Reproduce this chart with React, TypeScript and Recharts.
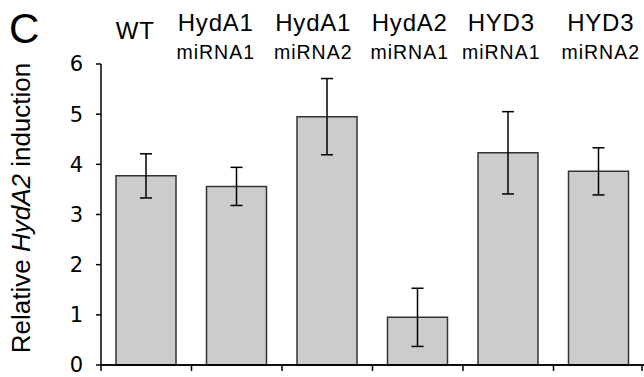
import React from 'react';
import { BarChart, Bar, XAxis, YAxis, ErrorBar, Label, ReferenceLine } from 'recharts';

const genes = ['WT', 'HydA1', 'HydA1', 'HydA2', 'HYD3', 'HYD3'];
const constructs = ['', 'miRNA1', 'miRNA2', 'miRNA1', 'miRNA1', 'miRNA2'];
const induction = [3.77, 3.56, 4.95, 0.95, 4.23, 3.86];
const errors = [0.44, 0.38, 0.76, 0.58, 0.82, 0.47];
const yTicks = [0, 1, 2, 3, 4, 5, 6];

const data = genes.map((g, i) => ({
  key: `${g}-${constructs[i]}-${i}`,
  gene: g,
  construct: constructs[i],
  value: induction[i],
  err: errors[i],
}));

const LABEL_NUDGE = [-11, -21, -14, -8, -7, 2];
const LBL_FONT = '"Liberation Sans", Arial, sans-serif';
const HALF_BAND = 543 / 6 / 2;

const TopTick = (props: any) => {
  const { x, index } = props;
  const d = data[index];
  if (!d) return null;
  const cx = x + (LABEL_NUDGE[index] ?? 0);
  return (
    <g>
      <text
        x={cx}
        y={d.construct ? 31 : 39}
        textAnchor="middle"
        fontFamily={LBL_FONT}
        fontSize={24}
        letterSpacing={0.8}
        fill="#000"
      >
        {d.gene}
      </text>
      {d.construct ? (
        <text
          x={cx}
          y={59}
          textAnchor="middle"
          fontFamily={LBL_FONT}
          fontSize={19.5}
          letterSpacing={1}
          fill="#000"
        >
          {d.construct}
        </text>
      ) : null}
    </g>
  );
};

const BoundaryTick = (props: any) => {
  const { x, y, index } = props;
  const left = x - HALF_BAND;
  const right = x + HALF_BAND;
  return (
    <g>
      <line x1={left} y1={y} x2={left} y2={y + 6} stroke="#000" strokeWidth={1.5} />
      {index === data.length - 1 ? (
        <line x1={right - 2} y1={y} x2={right - 2} y2={y + 6} stroke="#000" strokeWidth={1.5} />
      ) : null}
    </g>
  );
};

const YLabel = () => (
  <text
    x={30}
    y={208}
    transform="rotate(-90, 30, 208)"
    textAnchor="middle"
    fontFamily={LBL_FONT}
    fontSize={26}
    fill="#000"
  >
    <tspan>Relative </tspan>
    <tspan fontStyle="italic">HydA2</tspan>
    <tspan> induction</tspan>
  </text>
);

export default function App() {
  return (
    <div style={{ position: 'absolute', left: 0, top: 0, width: 644, height: 377, background: '#fff' }}>
      <div
        style={{
          position: 'absolute',
          left: 9,
          top: 8,
          fontFamily: LBL_FONT,
          fontSize: 42,
          lineHeight: '42px',
          color: '#000',
        }}
      >
        C
      </div>
      <BarChart
        width={644}
        height={377}
        data={data}
        margin={{ top: 0, right: 0, bottom: 0, left: 0 }}
        barSize={60}
      >
        <XAxis
          xAxisId="top"
          orientation="top"
          dataKey="key"
          height={64}
          axisLine={false}
          tickLine={false}
          tick={<TopTick />}
          interval={0}
        />
        <XAxis
          xAxisId="bottom"
          orientation="bottom"
          dataKey="key"
          height={12}
          tickSize={0}
          tickMargin={0}
          interval={0}
          axisLine={{ stroke: '#000', strokeWidth: 1.5 }}
          tickLine={false}
          tick={<BoundaryTick />}
        />
        <YAxis
          domain={[0, 6]}
          ticks={yTicks}
          interval={0}
          width={101}
          tickSize={5}
          tickMargin={13}
          axisLine={{ stroke: '#000', strokeWidth: 1.5 }}
          tickLine={{ stroke: '#000', strokeWidth: 1.5 }}
          tick={{ fill: '#000', fontSize: 21, fontFamily: 'Verdana, "DejaVu Sans", sans-serif' }}
        >
          <Label content={<YLabel />} />
        </YAxis>
        <Bar
          xAxisId="top"
          dataKey="value"
          fill="#cccccc"
          stroke="#333"
          strokeWidth={1.5}
          isAnimationActive={false}
        >
          <ErrorBar dataKey="err" width={6} stroke="#000" strokeWidth={1.5} />
        </Bar>
        <ReferenceLine xAxisId="top" y={0} stroke="#000" strokeWidth={1.5} />
      </BarChart>
    </div>
  );
}
